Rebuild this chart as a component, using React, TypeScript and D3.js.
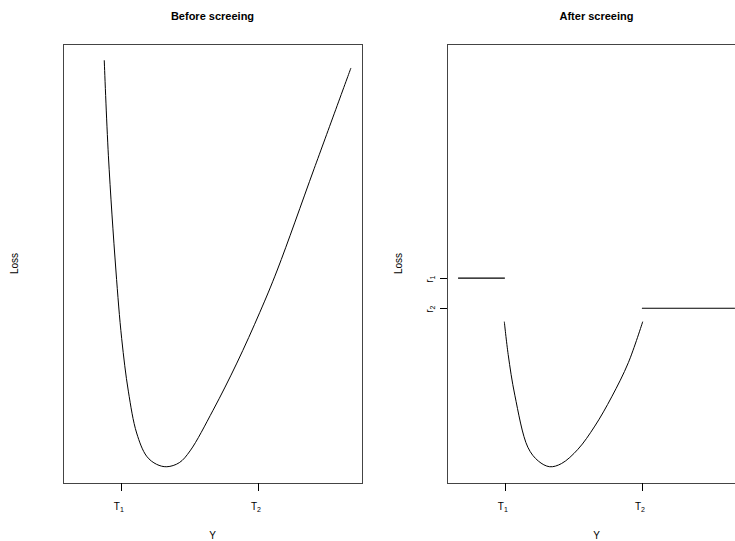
import React from 'react';
import * as d3 from 'd3';

// Loss curve before screening
const beforeY = [1.09, 1.24, 1.51, 1.72, 1.96, 2.26, 2.62, 2.98, 3.35, 3.8, 4.19, 5.02, 5.88, 6.71, 7.34, 8.67, 10.0];
const beforeLoss = [100, 76.5, 48.4, 31.5, 18.6, 8.3, 2.6, 0.6, 0, 1.0, 3.9, 13.9, 25.5, 38.0, 48.4, 73.3, 98.1];

// Loss curve after screening, between the thresholds (right panel)
const afterY = [1.67, 1.81, 2.05, 2.52, 2.9, 3.31, 3.74, 4.33, 4.94, 5.55, 6.15, 6.67];
const afterLoss = [35.7, 27.6, 17.6, 4.8, 1.4, 0, 0.8, 4.3, 10.0, 17.2, 25.6, 35.7];

// thresholds and the flat losses outside them
const thresholds = [1.69, 6.64];
const thresholdLabels = ['1', '2'];
const flatLevels = [46.4, 39.0];
const flatLabels = ['1', '2'];
const yRange = [0, 10];
const lossRange = [0, 100];

const W = 735;
const H = 541;
const top = 44;
const bottom = 483;
const panels = [
  { left: 63, right: 362, title: 'Before screeing' },
  { left: 447, right: 746, title: 'After screeing' },
];

const font = 'Liberation Sans, Arial, Helvetica, sans-serif';

function pad(r: number[]) {
  const d = (r[1] - r[0]) * 0.04;
  return [r[0] - d, r[1] + d];
}

function Panel({ idx }: { idx: number }) {
  const p = panels[idx];
  const x = d3.scaleLinear().domain(pad(yRange)).range([p.left, p.right]);
  const y = d3.scaleLinear().domain(pad(lossRange)).range([bottom, top]);
  const line = d3.line<[number, number]>()
    .x(d => x(d[0]))
    .y(d => y(d[1]))
    .curve(d3.curveCatmullRom.alpha(0.5));

  const cx = (p.left + p.right) / 2;
  const cy = (top + bottom) / 2;
  const clipId = `clip${idx}`;

  const xs = idx === 0 ? beforeY : afterY;
  const ls = idx === 0 ? beforeLoss : afterLoss;
  const curve = line(xs.map((v, i) => [v, ls[i]] as [number, number])) || '';

  return (
    <g>
      <defs>
        <clipPath id={clipId}>
          <rect x={p.left} y={top} width={p.right - p.left} height={bottom - top} />
        </clipPath>
      </defs>
      <text x={cx} y={20} textAnchor="middle" fontWeight="bold" fontSize={11} fontFamily={font}>
        {p.title}
      </text>
      <g clipPath={`url(#${clipId})`}>
        <path d={curve} fill="none" stroke="#000" strokeWidth={1} />
        {idx === 1 && (
          <>
            <line x1={x(yRange[0])} x2={x(thresholds[0])} y1={y(flatLevels[0])} y2={y(flatLevels[0])}
              stroke="#000" strokeWidth={1.1} />
            <line x1={x(thresholds[1])} x2={x(yRange[1])} y1={y(flatLevels[1])} y2={y(flatLevels[1])}
              stroke="#000" strokeWidth={1.1} />
          </>
        )}
      </g>
      <rect x={p.left + 0.5} y={top + 0.5} width={p.right - p.left} height={bottom - top}
        fill="none" stroke="#444" strokeWidth={1} />
      {thresholds.map((t, i) => (
        <g key={i}>
          <line x1={Math.round(x(t)) + 0.5} x2={Math.round(x(t)) + 0.5} y1={bottom} y2={bottom + 8} stroke="#000" />
          <text x={x(t) - 2} y={510} textAnchor="middle" fontSize={10} fontFamily={font} fill="#000">
            T<tspan fontSize={7} dy={2}>{thresholdLabels[i]}</tspan>
          </text>
        </g>
      ))}
      {idx === 1 && flatLevels.map((r, i) => (
        <g key={i}>
          <line x1={p.left - 7} x2={p.left} y1={Math.round(y(r)) + 0.5} y2={Math.round(y(r)) + 0.5} stroke="#000" />
          <text transform={`translate(433,${y(r) + 1}) rotate(-90)`} textAnchor="middle" fontSize={10} fontFamily={font}>
            r<tspan fontSize={7} dy={2}>{flatLabels[i]}</tspan>
          </text>
        </g>
      ))}
      <text x={cx} y={539} textAnchor="middle" fontSize={10} fontFamily={font}>Y</text>
      <text transform={`translate(${p.left - 45},${cy}) rotate(-90)`} textAnchor="middle" fontSize={10} fontFamily={font}>
        Loss
      </text>
    </g>
  );
}

export default function App() {
  return (
    <svg width={W} height={H} style={{ position: 'absolute', left: 0, top: 0, background: '#fff' }}>
      <rect width={W} height={H} fill="#fff" />
      <Panel idx={0} />
      <Panel idx={1} />
    </svg>
  );
}
